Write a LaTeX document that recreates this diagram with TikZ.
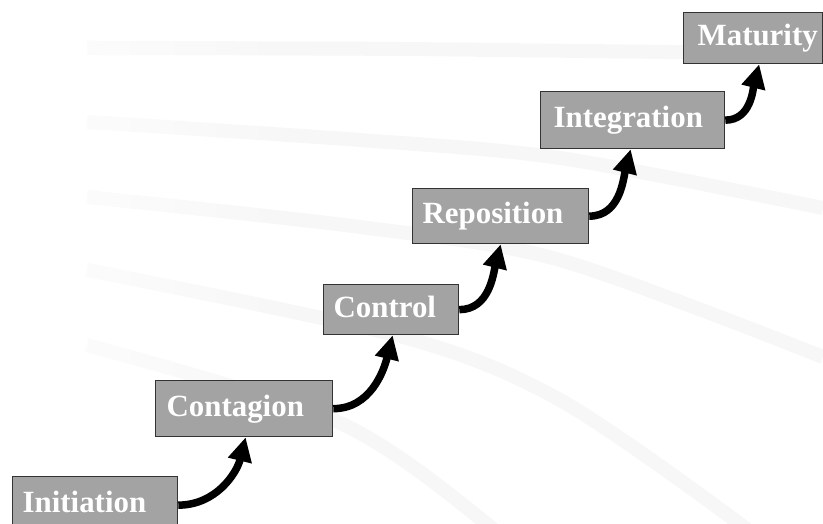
\documentclass[tikz,border=0pt]{standalone}
\usepackage{fontspec}
\setmainfont{Liberation Serif}
\usetikzlibrary{arrows.meta,fadings}
\definecolor{boxfill}{HTML}{A3A3A3}
\definecolor{boxline}{HTML}{333333}
\definecolor{arcgray}{HTML}{F7F7F7}
\tikzfading[name=leftfade, left color=transparent!35, right color=transparent!100]
\begin{document}
\begin{tikzpicture}[x=1bp,y=1bp,
  stage/.style={draw=boxline, line width=1.3bp, fill=boxfill, anchor=north west,
    align=left, inner ysep=0pt, text height=22bp, text depth=7bp,
    text=white, font=\fontsize{31}{34}\selectfont\bfseries},
  bgarc/.style={draw=arcgray, line width=14bp},
  stepconn/.style={draw=black, line width=7.5bp,
    -{Triangle[width=23bp,length=24bp]}}]
\useasboundingbox (0,0) rectangle (823,524);
\clip (0,0) rectangle (823,524);
% background arcs
\draw[bgarc] plot[smooth] coordinates {(87,476) (400,475) (823,470)};
\draw[bgarc] plot[smooth] coordinates {(87,402) (360,384) (560,366) (823,316)};
\draw[bgarc] plot[smooth] coordinates {(87,327) (360,297) (560,264) (823,167)};
\draw[bgarc] plot[smooth] coordinates {(87,254) (403,187) (560,124) (740,0) (752,-20)};
\draw[bgarc] plot[smooth] coordinates {(87,179) (340,101) (487,0) (495,-20)};
\fill[white, path fading=leftfade] (80,0) rectangle (300,524);
% stages
\node[stage, inner xsep=10bp, text width=145bp, minimum height=57bp] (ini) at (12,48) {Initiation};
\node[stage, inner xsep=11bp, text width=155bp, minimum height=56bp] (con) at (155,144) {Contagion};
\node[stage, inner xsep=10bp, text width=115bp, minimum height=50bp] (ctl) at (323,240) {Control};
\node[stage, inner xsep=10bp, text width=156bp, minimum height=55bp] (rep) at (412,336) {Reposition};
\node[stage, inner xsep=13bp, text width=158bp, minimum height=57bp] (int) at (540,433) {Integration};
\node[stage, inner xsep=14bp, text width=111bp, minimum height=51bp] (mat) at (683,512) {Maturity};
% connectors
\draw[stepconn] (ini.east) to[out=0,in=-104] ([xshift=1.5bp]con.south);
\draw[stepconn] (con.east) to[out=0,in=-104] ([xshift=1.5bp]ctl.south);
\draw[stepconn] (ctl.east) to[out=0,in=-104] (rep.south);
\draw[stepconn] (rep.east) to[out=0,in=-104] ([xshift=-2bp]int.south);
\draw[stepconn] (int.east) to[out=0,in=-104] ([xshift=6bp]mat.south);
\end{tikzpicture}
\end{document}
